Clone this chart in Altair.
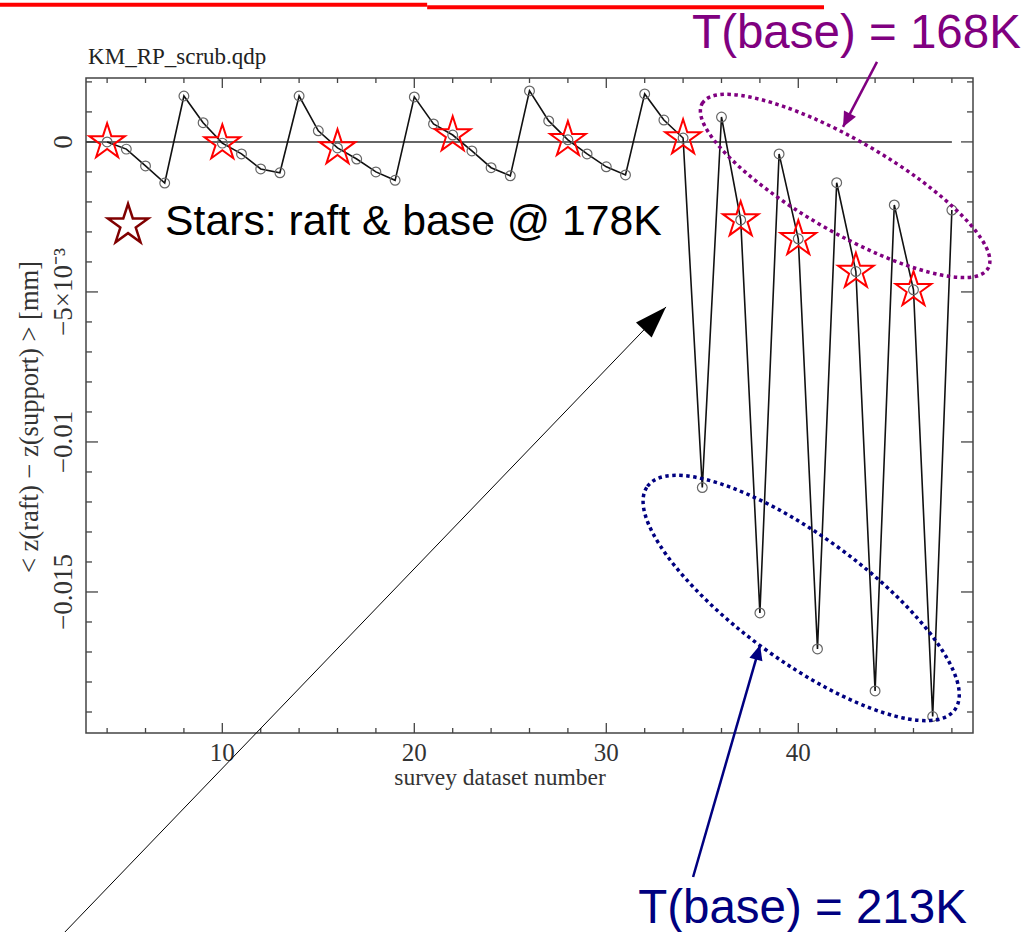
import altair as alt
import pandas as pd

# ---------------- data ----------------
survey = list(range(4, 49))
dz = [0.0, -0.00024, -0.0008, -0.00137, 0.00153, 0.00064, -0.00004, -0.0004, -0.0009, -0.00103,
      0.00153, 0.00037, -0.0002, -0.00057, -0.001, -0.00128, 0.0015, 0.0006, 0.00023, -0.0003,
      -0.00086, -0.00113, 0.0017, 0.0007, 0.00007, -0.0004, -0.00083, -0.0011, 0.0016, 0.00073,
      0.00013, -0.01152, 0.00083, -0.0026, -0.0157, -0.0004, -0.00323, -0.0169, -0.00136, -0.00432,
      -0.0183, -0.0021, -0.00493, -0.01915, -0.00227]
star_x = [4, 10, 16, 22, 28, 34, 37, 40, 43, 46]

x_major = [10, 20, 30, 40]
x_major_labels = ["10", "20", "30", "40"]
x_minor = [4, 6, 8, 12, 14, 16, 18, 22, 24, 26, 28, 32, 34, 36, 38, 42, 44, 46, 48]
y_major = [0, -0.005, -0.01, -0.015]
y_major_labels = ["0", "\u22125\u00d710\u207b\u00b3", "\u22120.01", "\u22120.015"]
y_minor = [0.002, 0.001, -0.001, -0.002, -0.003, -0.004, -0.006, -0.007, -0.008, -0.009,
           -0.011, -0.012, -0.013, -0.014, -0.016, -0.017, -0.018, -0.019]
x_title = "survey dataset number"
y_title = "< z(raft) \u2212 z(support) > [mm]"
file_title = "KM_RP_scrub.qdp"

X_DOMAIN = [2.9, 49.1]
Y_DOMAIN = [-0.0197, 0.00213]
W, H = 887, 655

# annotation anchors (data units)
ann_text = ["T(base) = 168K", "T(base) = 213K", "Stars: raft & base @ 178K"]
ann_text_x = [34.47, 31.66, 7.02]
ann_text_y = [0.00313, -0.02603, -0.0031]
ann_text_color = ["#800080", "#000080", "#000000"]
ann_text_size = [47.5, 47.5, 42.7]

arrow_x = [44.1, 34.52, 1.55]
arrow_y = [0.002667, -0.0245, -0.0265]
arrow_x2 = [42.33, 38.01, 33.11]
arrow_y2 = [0.0005, -0.01677, -0.0055]
arrow_color = ["#800080", "#000080", "#000000"]
arrow_width = [2.5, 2.5, 1.0]
arrow_angle = [207.6, 16.1, 43.9]

ell_x = [42.44, 40.15]
ell_y = [-0.001467, -0.01520]
ell_angle = [30, 36]
ell_color = ["#800080", "#000080"]

xs = alt.Scale(domain=X_DOMAIN, nice=False, zero=False)
ys = alt.Scale(domain=Y_DOMAIN, nice=False, zero=False)
X = lambda f="x:Q": alt.X(f, scale=xs, axis=None)
Y = lambda f="y:Q": alt.Y(f, scale=ys, axis=None)

df = pd.DataFrame({"x": survey, "y": dz})
df_star = df[df["x"].isin(star_x)]

STAR = "M0,-1L0.2245,-0.309L0.951,-0.309L0.3633,0.118L0.5878,0.809L0,0.382L-0.5878,0.809L-0.3633,0.118L-0.951,-0.309L-0.2245,-0.309Z"
HEAD_SMALL = "M0,0L0.45,1L-0.45,1Z"
HEAD_BIG = "M0,0L0.34,1L-0.34,1Z"

serif = "Liberation Serif"
sans = "Liberation Sans"
AX = "#333"

layers = []

# ticks (inside the frame, on all four sides)
def xticks(vals, length):
    d = pd.DataFrame({"x": vals})
    b = alt.Chart(d).mark_rule(color="#444", strokeWidth=1.3).encode(
        x=X(), y=alt.value(H), y2=alt.value(H - length))
    t = alt.Chart(d).mark_rule(color="#444", strokeWidth=1.3).encode(
        x=X(), y=alt.value(0), y2=alt.value(length))
    return [b, t]

def yticks(vals, length):
    d = pd.DataFrame({"y": vals})
    l = alt.Chart(d).mark_rule(color="#444", strokeWidth=1.3).encode(
        y=Y(), x=alt.value(0), x2=alt.value(length))
    r = alt.Chart(d).mark_rule(color="#444", strokeWidth=1.3).encode(
        y=Y(), x=alt.value(W), x2=alt.value(W - length))
    return [l, r]

layers += xticks(x_major, 10) + xticks(x_minor, 5) + yticks(y_major, 12) + yticks(y_minor, 6)

# tick labels
layers.append(alt.Chart(pd.DataFrame({"x": x_major, "t": x_major_labels})).mark_text(
    font=serif, fontSize=25, color=AX, baseline="top", align="center").encode(
    x=X(), y=alt.value(H + 8), text="t:N"))
layers.append(alt.Chart(pd.DataFrame({"y": y_major, "t": y_major_labels})).mark_text(
    font=serif, fontSize=27, color=AX, baseline="alphabetic", align="center", angle=270).encode(
    y=Y(), x=alt.value(-14), text="t:N"))

# axis titles
layers.append(alt.Chart(pd.DataFrame({"t": [x_title]})).mark_text(
    font=serif, fontSize=23.5, color=AX, baseline="alphabetic", align="center").encode(
    x=alt.value(414), y=alt.value(H + 52), text="t:N"))
layers.append(alt.Chart(pd.DataFrame({"t": [y_title]})).mark_text(
    font=serif, fontSize=26.5, color=AX, baseline="alphabetic", align="center", angle=270).encode(
    x=alt.value(-48), y=alt.value(339), text="t:N"))

# zero line
zero = pd.DataFrame({"x": [X_DOMAIN[0]], "x2": [48], "y": [0]})
layers.append(alt.Chart(zero).mark_rule(color="#333", strokeWidth=1.5).encode(
    x=X(), x2="x2:Q", y=Y()))

# data line
layers.append(alt.Chart(df).mark_line(color="#111", strokeWidth=1.6).encode(x=X(), y=Y()))

# circles
layers.append(alt.Chart(df).mark_point(shape="circle", filled=False, color="#666",
                                       strokeWidth=1.2, size=95, opacity=1).encode(x=X(), y=Y()))

# red stars
layers.append(alt.Chart(df_star).mark_point(shape=STAR, filled=False, color="#ff0000",
                                            strokeWidth=2, size=1400, opacity=1).encode(x=X(), y=Y()))

# legend star
leg = pd.DataFrame({"x": [5.09], "y": [-0.00277]})
layers.append(alt.Chart(leg).mark_point(shape=STAR, filled=False, color="#800000",
                                        strokeWidth=2.5, size=1800, opacity=1).encode(x=X(), y=Y()))

# ellipses
ell_paths = ["M -1 0 A 1 0.279 0 1 1 1 0 A 1 0.279 0 1 1 -1 0 Z",
             "M -1 0 A 1 0.33 0 1 1 1 0 A 1 0.33 0 1 1 -1 0 Z"]
ell_sizes = [330 ** 2, 380 ** 2]
for i in range(2):
    d = pd.DataFrame({"x": [ell_x[i]], "y": [ell_y[i]]})
    layers.append(alt.Chart(d).mark_point(shape=ell_paths[i], filled=False, color=ell_color[i],
                                          strokeWidth=3.5, strokeDash=[3.5, 3.5], angle=ell_angle[i],
                                          size=ell_sizes[i], opacity=1).encode(x=X(), y=Y()))

# arrows
for i in range(3):
    d = pd.DataFrame({"x": [arrow_x[i]], "y": [arrow_y[i]], "x2": [arrow_x2[i]], "y2": [arrow_y2[i]]})
    layers.append(alt.Chart(d).mark_rule(color=arrow_color[i], strokeWidth=arrow_width[i]).encode(
        x=X(), y=Y(), x2="x2:Q", y2="y2:Q"))
    head = HEAD_BIG if i == 2 else HEAD_SMALL
    hsize = 32 * 32 * 4 if i == 2 else 15 * 15 * 4
    layers.append(alt.Chart(d).mark_point(shape=head, filled=True, color=arrow_color[i],
                                          angle=arrow_angle[i], size=hsize, opacity=1).encode(
        x=X("x2:Q"), y=Y("y2:Q")))

# annotation texts
for i in range(3):
    d = pd.DataFrame({"x": [ann_text_x[i]], "y": [ann_text_y[i]], "t": [ann_text[i]]})
    layers.append(alt.Chart(d).mark_text(font=sans, fontSize=ann_text_size[i], color=ann_text_color[i],
                                         align="left", baseline="alphabetic").encode(
        x=X(), y=Y(), text="t:N"))

# plot title (file name)
d = pd.DataFrame({"x": [3.01], "y": [0.0026], "t": [file_title]})
layers.append(alt.Chart(d).mark_text(font=serif, fontSize=23, color="#222", align="left",
                                     baseline="alphabetic").encode(x=X(), y=Y(), text="t:N"))

# red header lines
red = pd.DataFrame({"x": [-1.6, 20.67], "x2": [20.67, 41.34], "y": [0.00457, 0.00449]})
layers.append(alt.Chart(red).mark_rule(color="#ff0000", strokeWidth=4).encode(
    x=X(), x2="x2:Q", y=Y()))

chart = alt.layer(*layers).properties(
    width=W, height=H,
    padding={"left": 86, "top": 78, "right": 54, "bottom": 199},
    autosize=alt.AutoSizeParams(type="none"),
    background="white",
).configure_view(stroke="#444", strokeWidth=1.5)

chart.save("out.html", embed_options={"renderer": "svg", "actions": False})
